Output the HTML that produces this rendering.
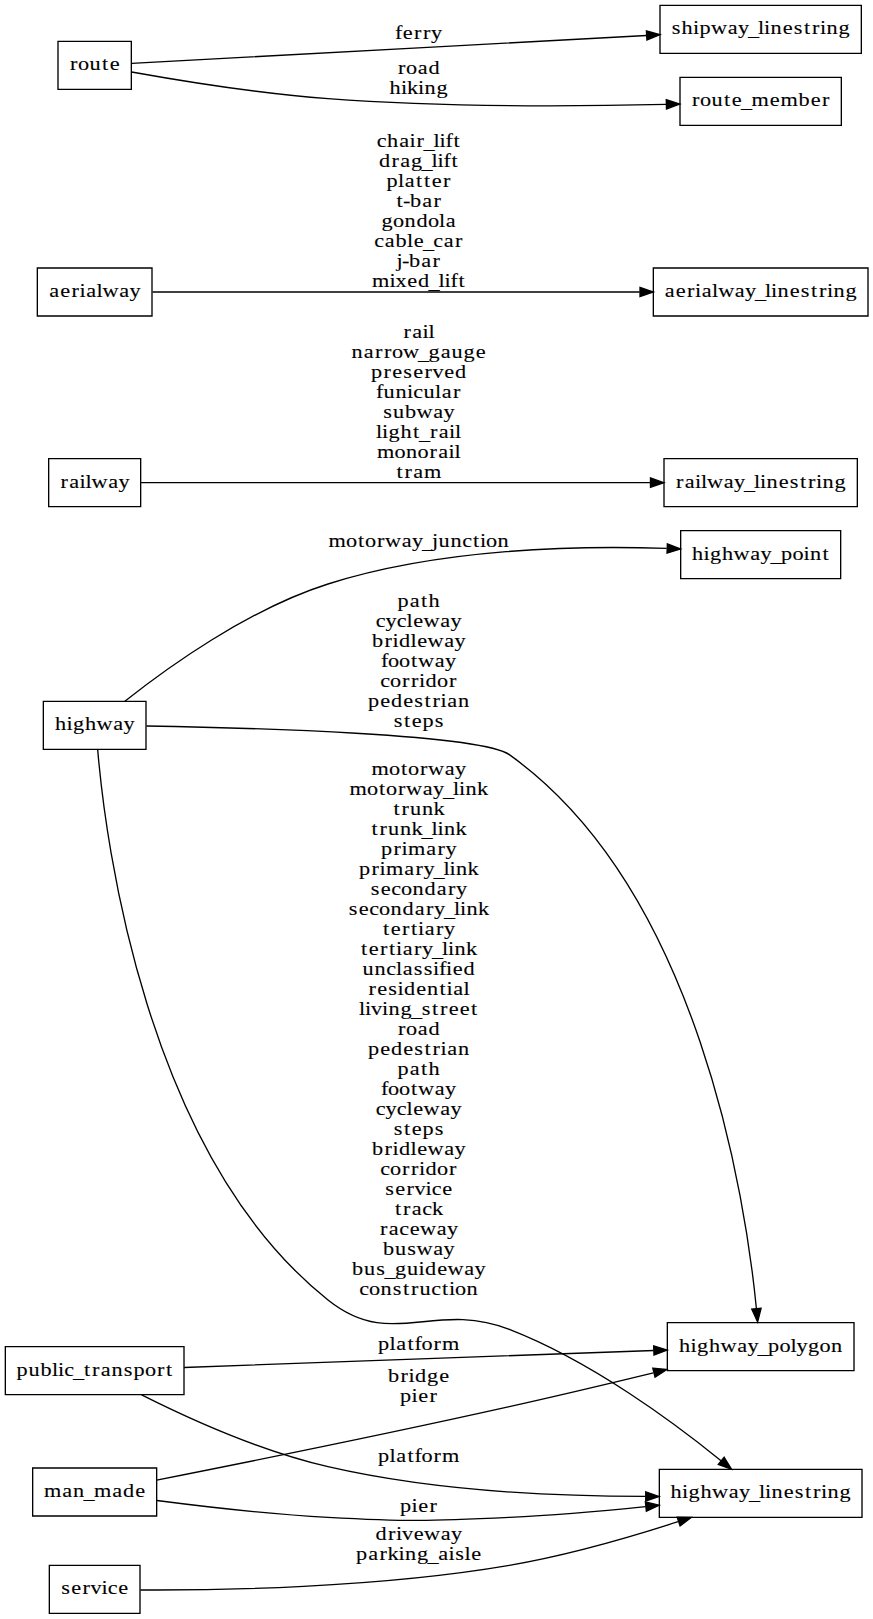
<!DOCTYPE html>
<html><head><meta charset="utf-8"><title>diagram</title>
<style>
html,body{margin:0;padding:0;background:#fff;width:873px;height:1619px;overflow:hidden}
svg{display:block}
text{font-family:"Liberation Serif",serif;font-size:14.40px;fill:#000;stroke:#000;stroke-width:0.080px}
</style></head><body>
<svg width="873" height="1619" viewBox="0 0 654.75 1214.25">
<g transform="scale(1 1) rotate(0) translate(4 1210)">
<polygon fill="white" stroke="none" points="-4,4 -4,-1210 651,-1210 651,4 -4,4"/>
<g>
<polygon fill="none" stroke="black" points="105.5,-684 28.5,-684 28.5,-648 105.5,-648 105.5,-684"/>
<text transform="scale(1.1600,1)" y="-662.30"><tspan x="32.18">h</tspan><tspan x="39.59">i</tspan><tspan x="43.81">g</tspan><tspan x="51.57">h</tspan><tspan x="59.02">w</tspan><tspan x="69.76">a</tspan><tspan x="76.46">y</tspan></text>
</g>
<g>
<polygon fill="none" stroke="black" points="626.5,-812 506.5,-812 506.5,-776 626.5,-776 626.5,-812"/>
<text transform="scale(1.1600,1)" y="-790.30"><tspan x="444.03">h</tspan><tspan x="451.45">i</tspan><tspan x="455.67">g</tspan><tspan x="463.43">h</tspan><tspan x="470.88">w</tspan><tspan x="481.61">a</tspan><tspan x="488.32">y</tspan><tspan x="494.78" dy="1.50">_</tspan><tspan x="501.57" dy="-1.50">p</tspan><tspan x="509.01">o</tspan><tspan x="516.10">i</tspan><tspan x="520.32">n</tspan><tspan x="528.39">t</tspan></text>
</g>
<g>
<path fill="none" stroke="black" d="M89.64,-684.01C120.97,-708.89 181.82,-752.89 242,-772 326.41,-798.81 429.26,-800.98 496,-798.66"/>
<polygon fill="black" stroke="black" points="496.53,-802.14 506.39,-798.26 496.26,-795.15 496.53,-802.14"/>
<text transform="scale(1.1600,1)" y="-799.80"><tspan x="208.95">m</tspan><tspan x="220.32">o</tspan><tspan x="228.06">t</tspan><tspan x="232.61">o</tspan><tspan x="240.27">r</tspan><tspan x="245.55">w</tspan><tspan x="256.29">a</tspan><tspan x="262.99">y</tspan><tspan x="269.46" dy="1.50">_</tspan><tspan x="275.91" dy="-1.50">j</tspan><tspan x="280.13">u</tspan><tspan x="287.89">n</tspan><tspan x="295.40">c</tspan><tspan x="302.42">t</tspan><tspan x="306.94">i</tspan><tspan x="310.84">o</tspan><tspan x="318.28">n</tspan></text>
</g>
<g>
<polygon fill="none" stroke="black" points="636.5,-218 496.5,-218 496.5,-182 636.5,-182 636.5,-218"/>
<text transform="scale(1.1600,1)" y="-196.30"><tspan x="435.62">h</tspan><tspan x="443.04">i</tspan><tspan x="447.26">g</tspan><tspan x="455.02">h</tspan><tspan x="462.47">w</tspan><tspan x="473.21">a</tspan><tspan x="479.91">y</tspan><tspan x="486.38" dy="1.50">_</tspan><tspan x="493.17" dy="-1.50">p</tspan><tspan x="500.60">o</tspan><tspan x="507.70">l</tspan><tspan x="511.59">y</tspan><tspan x="519.03">g</tspan><tspan x="526.46">o</tspan><tspan x="533.90">n</tspan></text>
</g>
<g>
<path fill="none" stroke="black" d="M105.77,-665.51C183.59,-664.18 356.33,-659.5 378,-644 520.63,-541.95 555.39,-309.39 563.31,-228.43"/>
<polygon fill="black" stroke="black" points="566.8,-228.74 564.22,-218.46 559.82,-228.1 566.8,-228.74"/>
<text transform="scale(1.1600,1)" y="-754.80"><tspan x="253.62">p</tspan><tspan x="261.46">a</tspan><tspan x="268.80">t</tspan><tspan x="273.66">h</tspan></text>
<text transform="scale(1.1600,1)" y="-739.80"><tspan x="239.48">c</tspan><tspan x="245.86">y</tspan><tspan x="253.05">c</tspan><tspan x="259.42">l</tspan><tspan x="263.72">e</tspan><tspan x="270.45">w</tspan><tspan x="281.18">a</tspan><tspan x="287.89">y</tspan></text>
<text transform="scale(1.1600,1)" y="-724.80"><tspan x="237.13">b</tspan><tspan x="245.12">r</tspan><tspan x="250.37">i</tspan><tspan x="254.59">d</tspan><tspan x="262.01">l</tspan><tspan x="266.31">e</tspan><tspan x="273.03">w</tspan><tspan x="283.77">a</tspan><tspan x="290.47">y</tspan></text>
<text transform="scale(1.1600,1)" y="-709.80"><tspan x="242.86">f</tspan><tspan x="247.48">o</tspan><tspan x="254.59">o</tspan><tspan x="262.33">t</tspan><tspan x="266.89">w</tspan><tspan x="277.62">a</tspan><tspan x="284.33">y</tspan></text>
<text transform="scale(1.1600,1)" y="-694.80"><tspan x="242.39">c</tspan><tspan x="248.77">o</tspan><tspan x="256.44">r</tspan><tspan x="262.26">r</tspan><tspan x="267.50">i</tspan><tspan x="271.72">d</tspan><tspan x="279.16">o</tspan><tspan x="286.83">r</tspan></text>
<text transform="scale(1.1600,1)" y="-679.80"><tspan x="234.55">p</tspan><tspan x="242.39">e</tspan><tspan x="249.42">d</tspan><tspan x="257.26">e</tspan><tspan x="264.44">s</tspan><tspan x="271.06">t</tspan><tspan x="276.16">r</tspan><tspan x="281.40">i</tspan><tspan x="285.71">a</tspan><tspan x="292.74">n</tspan></text>
<text transform="scale(1.1600,1)" y="-664.80"><tspan x="251.19">s</tspan><tspan x="257.81">t</tspan><tspan x="262.75">e</tspan><tspan x="269.78">p</tspan><tspan x="277.69">s</tspan></text>
</g>
<g>
<polygon fill="none" stroke="black" points="642.5,-108 490.5,-108 490.5,-72 642.5,-72 642.5,-108"/>
<text transform="scale(1.1600,1)" y="-86.30"><tspan x="430.13">h</tspan><tspan x="437.55">i</tspan><tspan x="441.77">g</tspan><tspan x="449.52">h</tspan><tspan x="456.98">w</tspan><tspan x="467.71">a</tspan><tspan x="474.42">y</tspan><tspan x="480.88" dy="1.50">_</tspan><tspan x="487.33" dy="-1.50">l</tspan><tspan x="491.21">i</tspan><tspan x="495.43">n</tspan><tspan x="503.27">e</tspan><tspan x="510.45">s</tspan><tspan x="517.07">t</tspan><tspan x="522.17">r</tspan><tspan x="527.42">i</tspan><tspan x="531.64">n</tspan><tspan x="539.40">g</tspan></text>
</g>
<g>
<path fill="none" stroke="black" d="M69.28,-647.58C75.01,-580.13 104.52,-344.75 242,-235 289.85,-196.8 320.92,-235.17 378,-213 439.48,-189.12 501.71,-142.98 536.76,-114.5"/>
<polygon fill="black" stroke="black" points="539.15,-117.06 544.66,-108.01 534.71,-111.65 539.15,-117.06"/>
<text transform="scale(1.1600,1)" y="-628.80"><tspan x="236.75">m</tspan><tspan x="248.12">o</tspan><tspan x="255.87">t</tspan><tspan x="260.41">o</tspan><tspan x="268.08">r</tspan><tspan x="273.36">w</tspan><tspan x="284.09">a</tspan><tspan x="290.80">y</tspan></text>
<text transform="scale(1.1600,1)" y="-613.80"><tspan x="222.52">m</tspan><tspan x="233.90">o</tspan><tspan x="241.64">t</tspan><tspan x="246.18">o</tspan><tspan x="253.85">r</tspan><tspan x="259.13">w</tspan><tspan x="269.86">a</tspan><tspan x="276.57">y</tspan><tspan x="283.04" dy="1.50">_</tspan><tspan x="289.49" dy="-1.50">l</tspan><tspan x="293.37">i</tspan><tspan x="297.59">n</tspan><tspan x="305.02">k</tspan></text>
<text transform="scale(1.1600,1)" y="-598.80"><tspan x="251.02">t</tspan><tspan x="256.12">r</tspan><tspan x="261.70">u</tspan><tspan x="269.46">n</tspan><tspan x="276.90">k</tspan></text>
<text transform="scale(1.1600,1)" y="-583.80"><tspan x="236.79">t</tspan><tspan x="241.89">r</tspan><tspan x="247.48">u</tspan><tspan x="255.24">n</tspan><tspan x="262.67">k</tspan><tspan x="269.14" dy="1.50">_</tspan><tspan x="275.59" dy="-1.50">l</tspan><tspan x="279.47">i</tspan><tspan x="283.68">n</tspan><tspan x="291.12">k</tspan></text>
<text transform="scale(1.1600,1)" y="-568.80"><tspan x="242.95">p</tspan><tspan x="250.94">r</tspan><tspan x="256.19">i</tspan><tspan x="260.35">m</tspan><tspan x="272.13">a</tspan><tspan x="279.39">r</tspan><tspan x="284.65">y</tspan></text>
<text transform="scale(1.1600,1)" y="-553.80"><tspan x="228.73">p</tspan><tspan x="236.72">r</tspan><tspan x="241.97">i</tspan><tspan x="246.12">m</tspan><tspan x="257.90">a</tspan><tspan x="265.17">r</tspan><tspan x="270.43">y</tspan><tspan x="276.90" dy="1.50">_</tspan><tspan x="283.34" dy="-1.50">l</tspan><tspan x="287.22">i</tspan><tspan x="291.44">n</tspan><tspan x="298.88">k</tspan></text>
<text transform="scale(1.1600,1)" y="-538.80"><tspan x="236.31">s</tspan><tspan x="242.71">e</tspan><tspan x="249.50">c</tspan><tspan x="255.88">o</tspan><tspan x="263.32">n</tspan><tspan x="271.08">d</tspan><tspan x="278.92">a</tspan><tspan x="286.18">r</tspan><tspan x="291.44">y</tspan></text>
<text transform="scale(1.1600,1)" y="-523.80"><tspan x="222.09">s</tspan><tspan x="228.49">e</tspan><tspan x="235.27">c</tspan><tspan x="241.66">o</tspan><tspan x="249.09">n</tspan><tspan x="256.85">d</tspan><tspan x="264.69">a</tspan><tspan x="271.96">r</tspan><tspan x="277.22">y</tspan><tspan x="283.68" dy="1.50">_</tspan><tspan x="290.13" dy="-1.50">l</tspan><tspan x="294.01">i</tspan><tspan x="298.23">n</tspan><tspan x="305.67">k</tspan></text>
<text transform="scale(1.1600,1)" y="-508.80"><tspan x="244.23">t</tspan><tspan x="249.17">e</tspan><tspan x="256.44">r</tspan><tspan x="262.33">t</tspan><tspan x="266.86">i</tspan><tspan x="271.16">a</tspan><tspan x="278.42">r</tspan><tspan x="283.68">y</tspan></text>
<text transform="scale(1.1600,1)" y="-493.80"><tspan x="230.00">t</tspan><tspan x="234.95">e</tspan><tspan x="242.21">r</tspan><tspan x="248.11">t</tspan><tspan x="252.63">i</tspan><tspan x="256.93">a</tspan><tspan x="264.20">r</tspan><tspan x="269.46">y</tspan><tspan x="275.93" dy="1.50">_</tspan><tspan x="282.37" dy="-1.50">l</tspan><tspan x="286.25">i</tspan><tspan x="290.47">n</tspan><tspan x="297.91">k</tspan></text>
<text transform="scale(1.1600,1)" y="-478.80"><tspan x="230.99">u</tspan><tspan x="238.75">n</tspan><tspan x="246.27">c</tspan><tspan x="252.63">l</tspan><tspan x="256.93">a</tspan><tspan x="264.12">s</tspan><tspan x="270.58">s</tspan><tspan x="276.56">i</tspan><tspan x="280.36">f</tspan><tspan x="284.96">i</tspan><tspan x="289.26">e</tspan><tspan x="296.29">d</tspan></text>
<text transform="scale(1.1600,1)" y="-463.80"><tspan x="234.78">r</tspan><tspan x="240.45">e</tspan><tspan x="247.63">s</tspan><tspan x="253.60">i</tspan><tspan x="257.82">d</tspan><tspan x="265.66">e</tspan><tspan x="272.69">n</tspan><tspan x="280.76">t</tspan><tspan x="285.28">i</tspan><tspan x="289.58">a</tspan><tspan x="296.28">l</tspan></text>
<text transform="scale(1.1600,1)" y="-448.80"><tspan x="228.71">l</tspan><tspan x="232.59">i</tspan><tspan x="236.49">v</tspan><tspan x="243.58">i</tspan><tspan x="247.80">n</tspan><tspan x="255.56">g</tspan><tspan x="262.35" dy="1.50">_</tspan><tspan x="269.29" dy="-1.50">s</tspan><tspan x="275.91">t</tspan><tspan x="281.01">r</tspan><tspan x="286.67">e</tspan><tspan x="293.79">e</tspan><tspan x="301.12">t</tspan></text>
<text transform="scale(1.1600,1)" y="-433.80"><tspan x="253.85">r</tspan><tspan x="259.12">o</tspan><tspan x="266.63">a</tspan><tspan x="273.66">d</tspan></text>
<text transform="scale(1.1600,1)" y="-418.80"><tspan x="234.55">p</tspan><tspan x="242.39">e</tspan><tspan x="249.42">d</tspan><tspan x="257.26">e</tspan><tspan x="264.44">s</tspan><tspan x="271.06">t</tspan><tspan x="276.16">r</tspan><tspan x="281.40">i</tspan><tspan x="285.71">a</tspan><tspan x="292.74">n</tspan></text>
<text transform="scale(1.1600,1)" y="-403.80"><tspan x="253.62">p</tspan><tspan x="261.46">a</tspan><tspan x="268.80">t</tspan><tspan x="273.66">h</tspan></text>
<text transform="scale(1.1600,1)" y="-388.80"><tspan x="242.86">f</tspan><tspan x="247.48">o</tspan><tspan x="254.59">o</tspan><tspan x="262.33">t</tspan><tspan x="266.89">w</tspan><tspan x="277.62">a</tspan><tspan x="284.33">y</tspan></text>
<text transform="scale(1.1600,1)" y="-373.80"><tspan x="239.48">c</tspan><tspan x="245.86">y</tspan><tspan x="253.05">c</tspan><tspan x="259.42">l</tspan><tspan x="263.72">e</tspan><tspan x="270.45">w</tspan><tspan x="281.18">a</tspan><tspan x="287.89">y</tspan></text>
<text transform="scale(1.1600,1)" y="-358.80"><tspan x="251.19">s</tspan><tspan x="257.81">t</tspan><tspan x="262.75">e</tspan><tspan x="269.78">p</tspan><tspan x="277.69">s</tspan></text>
<text transform="scale(1.1600,1)" y="-343.80"><tspan x="237.13">b</tspan><tspan x="245.12">r</tspan><tspan x="250.37">i</tspan><tspan x="254.59">d</tspan><tspan x="262.01">l</tspan><tspan x="266.31">e</tspan><tspan x="273.03">w</tspan><tspan x="283.77">a</tspan><tspan x="290.47">y</tspan></text>
<text transform="scale(1.1600,1)" y="-328.80"><tspan x="242.39">c</tspan><tspan x="248.77">o</tspan><tspan x="256.44">r</tspan><tspan x="262.26">r</tspan><tspan x="267.50">i</tspan><tspan x="271.72">d</tspan><tspan x="279.16">o</tspan><tspan x="286.83">r</tspan></text>
<text transform="scale(1.1600,1)" y="-313.80"><tspan x="245.69">s</tspan><tspan x="252.08">e</tspan><tspan x="259.35">r</tspan><tspan x="264.61">v</tspan><tspan x="271.71">i</tspan><tspan x="275.68">c</tspan><tspan x="282.47">e</tspan></text>
<text transform="scale(1.1600,1)" y="-298.80"><tspan x="251.99">t</tspan><tspan x="257.09">r</tspan><tspan x="262.75">a</tspan><tspan x="269.54">c</tspan><tspan x="275.93">k</tspan></text>
<text transform="scale(1.1600,1)" y="-283.80"><tspan x="242.21">r</tspan><tspan x="247.88">a</tspan><tspan x="254.67">c</tspan><tspan x="261.46">e</tspan><tspan x="268.18">w</tspan><tspan x="278.92">a</tspan><tspan x="285.62">y</tspan></text>
<text transform="scale(1.1600,1)" y="-268.80"><tspan x="244.24">b</tspan><tspan x="252.00">u</tspan><tspan x="259.91">s</tspan><tspan x="265.92">w</tspan><tspan x="276.65">a</tspan><tspan x="283.36">y</tspan></text>
<text transform="scale(1.1600,1)" y="-253.80"><tspan x="224.20">b</tspan><tspan x="231.96">u</tspan><tspan x="239.87">s</tspan><tspan x="245.21" dy="1.50">_</tspan><tspan x="252.00" dy="-1.50">g</tspan><tspan x="259.76">u</tspan><tspan x="267.18">i</tspan><tspan x="271.40">d</tspan><tspan x="279.24">e</tspan><tspan x="285.96">w</tspan><tspan x="296.70">a</tspan><tspan x="303.40">y</tspan></text>
<text transform="scale(1.1600,1)" y="-238.80"><tspan x="228.81">c</tspan><tspan x="235.19">o</tspan><tspan x="242.63">n</tspan><tspan x="250.54">s</tspan><tspan x="257.16">t</tspan><tspan x="262.26">r</tspan><tspan x="267.84">u</tspan><tspan x="275.36">c</tspan><tspan x="282.37">t</tspan><tspan x="286.90">i</tspan><tspan x="290.80">o</tspan><tspan x="298.23">n</tspan></text>
</g>
<g>
<polygon fill="none" stroke="black" points="134,-200 0,-200 0,-164 134,-164 134,-200"/>
<text transform="scale(1.1600,1)" y="-178.30"><tspan x="7.28">p</tspan><tspan x="15.04">u</tspan><tspan x="22.80">b</tspan><tspan x="30.22">l</tspan><tspan x="34.10">i</tspan><tspan x="38.08">c</tspan><tspan x="43.81" dy="1.50">_</tspan><tspan x="50.91" dy="-1.50">t</tspan><tspan x="56.01">r</tspan><tspan x="61.67">a</tspan><tspan x="68.71">n</tspan><tspan x="76.62">s</tspan><tspan x="82.93">p</tspan><tspan x="90.37">o</tspan><tspan x="98.03">r</tspan><tspan x="103.93">t</tspan></text>
</g>
<g>
<path fill="none" stroke="black" d="M134.06,-184.39C225.07,-187.68 388.79,-193.61 486.27,-197.13"/>
<polygon fill="black" stroke="black" points="486.24,-200.63 496.36,-197.5 486.49,-193.64 486.24,-200.63"/>
<text transform="scale(1.1600,1)" y="-197.80"><tspan x="241.01">p</tspan><tspan x="248.43">l</tspan><tspan x="252.73">a</tspan><tspan x="260.07">t</tspan><tspan x="264.52">f</tspan><tspan x="269.14">o</tspan><tspan x="276.80">r</tspan><tspan x="282.33">m</tspan></text>
</g>
<g>
<path fill="none" stroke="black" d="M102.2,-163.86C136.5,-146.64 191.35,-121.7 242,-110 321.23,-91.69 414.1,-87.68 479.96,-87.66"/>
<polygon fill="black" stroke="black" points="480.29,-91.16 490.3,-87.69 480.31,-84.16 480.29,-91.16"/>
<text transform="scale(1.1600,1)" y="-113.80"><tspan x="241.01">p</tspan><tspan x="248.43">l</tspan><tspan x="252.73">a</tspan><tspan x="260.07">t</tspan><tspan x="264.52">f</tspan><tspan x="269.14">o</tspan><tspan x="276.80">r</tspan><tspan x="282.33">m</tspan></text>
</g>
<g>
<polygon fill="none" stroke="black" points="113.5,-109 20.5,-109 20.5,-73 113.5,-73 113.5,-109"/>
<text transform="scale(1.1600,1)" y="-87.30"><tspan x="25.00">m</tspan><tspan x="36.78">a</tspan><tspan x="43.81">n</tspan><tspan x="50.60" dy="1.50">_</tspan><tspan x="57.33" dy="-1.50">m</tspan><tspan x="69.11">a</tspan><tspan x="76.14">d</tspan><tspan x="83.98">e</tspan></text>
</g>
<g>
<path fill="none" stroke="black" d="M113.53,-99.93C174.06,-111.9 284.27,-134.08 378,-155 413.53,-162.93 452.71,-172.24 486.03,-180.33"/>
<polygon fill="black" stroke="black" points="485.62,-183.84 496.17,-182.8 487.28,-177.04 485.62,-183.84"/>
<text transform="scale(1.1600,1)" y="-173.80"><tspan x="247.48">b</tspan><tspan x="255.47">r</tspan><tspan x="260.72">i</tspan><tspan x="264.93">d</tspan><tspan x="272.69">g</tspan><tspan x="280.53">e</tspan></text>
<text transform="scale(1.1600,1)" y="-158.80"><tspan x="255.24">p</tspan><tspan x="262.65">i</tspan><tspan x="266.96">e</tspan><tspan x="274.22">r</tspan></text>
</g>
<g>
<path fill="none" stroke="black" d="M113.68,-84.64C148.71,-80.09 198.31,-74.38 242,-72 302.36,-68.71 317.62,-69.11 378,-72 411.45,-73.6 448.15,-76.8 480.14,-80.07"/>
<polygon fill="black" stroke="black" points="480.04,-83.58 490.35,-81.13 480.76,-76.61 480.04,-83.58"/>
<text transform="scale(1.1600,1)" y="-75.80"><tspan x="255.24">p</tspan><tspan x="262.65">i</tspan><tspan x="266.96">e</tspan><tspan x="274.22">r</tspan></text>
</g>
<g>
<polygon fill="none" stroke="black" points="101,-36 33,-36 33,0 101,0 101,-36"/>
<text transform="scale(1.1600,1)" y="-14.30"><tspan x="36.21">s</tspan><tspan x="42.60">e</tspan><tspan x="49.87">r</tspan><tspan x="55.13">v</tspan><tspan x="62.22">i</tspan><tspan x="66.20">c</tspan><tspan x="72.99">e</tspan></text>
</g>
<g>
<path fill="none" stroke="black" d="M101.31,-17.52C158.38,-17.23 278.36,-18.98 378,-36 421.04,-43.35 468.26,-56.99 504.55,-68.72"/>
<polygon fill="black" stroke="black" points="503.89,-72.18 514.49,-71.97 506.07,-65.53 503.89,-72.18"/>
<text transform="scale(1.1600,1)" y="-54.80"><tspan x="239.40">d</tspan><tspan x="247.39">r</tspan><tspan x="252.63">i</tspan><tspan x="256.53">v</tspan><tspan x="264.05">e</tspan><tspan x="270.77">w</tspan><tspan x="281.50">a</tspan><tspan x="288.21">y</tspan></text>
<text transform="scale(1.1600,1)" y="-39.80"><tspan x="226.79">p</tspan><tspan x="234.63">a</tspan><tspan x="241.89">r</tspan><tspan x="247.15">k</tspan><tspan x="254.25">i</tspan><tspan x="258.47">n</tspan><tspan x="266.23">g</tspan><tspan x="273.02" dy="1.50">_</tspan><tspan x="279.89" dy="-1.50">a</tspan><tspan x="286.58">i</tspan><tspan x="290.95">s</tspan><tspan x="296.92">l</tspan><tspan x="301.22">e</tspan></text>
</g>
<g>
<polygon fill="none" stroke="black" points="101.5,-866 32.5,-866 32.5,-830 101.5,-830 101.5,-866"/>
<text transform="scale(1.1600,1)" y="-844.30"><tspan x="35.64">r</tspan><tspan x="41.31">a</tspan><tspan x="48.00">i</tspan><tspan x="51.88">l</tspan><tspan x="55.79">w</tspan><tspan x="66.52">a</tspan><tspan x="73.23">y</tspan></text>
</g>
<g>
<polygon fill="none" stroke="black" points="639,-866 494,-866 494,-830 639,-830 639,-866"/>
<text transform="scale(1.1600,1)" y="-844.30"><tspan x="433.59">r</tspan><tspan x="439.26">a</tspan><tspan x="445.95">i</tspan><tspan x="449.83">l</tspan><tspan x="453.74">w</tspan><tspan x="464.48">a</tspan><tspan x="471.18">y</tspan><tspan x="477.65" dy="1.50">_</tspan><tspan x="484.10" dy="-1.50">l</tspan><tspan x="487.98">i</tspan><tspan x="492.20">n</tspan><tspan x="500.04">e</tspan><tspan x="507.22">s</tspan><tspan x="513.84">t</tspan><tspan x="518.94">r</tspan><tspan x="524.18">i</tspan><tspan x="528.40">n</tspan><tspan x="536.16">g</tspan></text>
</g>
<g>
<path fill="none" stroke="black" d="M101.8,-848C179.53,-848 372.78,-848 483.72,-848"/>
<polygon fill="black" stroke="black" points="483.86,-851.5 493.86,-848 483.86,-844.5 483.86,-851.5"/>
<text transform="scale(1.1600,1)" y="-956.80"><tspan x="257.41">r</tspan><tspan x="263.08">a</tspan><tspan x="269.77">i</tspan><tspan x="273.65">l</tspan></text>
<text transform="scale(1.1600,1)" y="-941.80"><tspan x="223.88">n</tspan><tspan x="231.72">a</tspan><tspan x="238.98">r</tspan><tspan x="244.80">r</tspan><tspan x="250.06">o</tspan><tspan x="257.19">w</tspan><tspan x="266.87" dy="1.50">_</tspan><tspan x="273.66" dy="-1.50">g</tspan><tspan x="281.50">a</tspan><tspan x="288.53">u</tspan><tspan x="296.29">g</tspan><tspan x="304.13">e</tspan></text>
<text transform="scale(1.1600,1)" y="-926.80"><tspan x="236.49">p</tspan><tspan x="244.48">r</tspan><tspan x="250.14">e</tspan><tspan x="257.33">s</tspan><tspan x="263.72">e</tspan><tspan x="270.99">r</tspan><tspan x="276.25">v</tspan><tspan x="283.77">e</tspan><tspan x="290.80">d</tspan></text>
<text transform="scale(1.1600,1)" y="-911.80"><tspan x="239.63">f</tspan><tspan x="244.57">u</tspan><tspan x="252.33">n</tspan><tspan x="259.75">i</tspan><tspan x="263.72">c</tspan><tspan x="270.43">u</tspan><tspan x="277.85">l</tspan><tspan x="282.15">a</tspan><tspan x="289.41">r</tspan></text>
<text transform="scale(1.1600,1)" y="-896.80"><tspan x="244.40">s</tspan><tspan x="250.71">u</tspan><tspan x="258.47">b</tspan><tspan x="265.92">w</tspan><tspan x="276.65">a</tspan><tspan x="283.36">y</tspan></text>
<text transform="scale(1.1600,1)" y="-881.80"><tspan x="239.70">l</tspan><tspan x="243.58">i</tspan><tspan x="247.80">g</tspan><tspan x="255.56">h</tspan><tspan x="263.62">t</tspan><tspan x="267.52" dy="1.50">_</tspan><tspan x="274.54" dy="-1.50">r</tspan><tspan x="280.21">a</tspan><tspan x="286.90">i</tspan><tspan x="290.78">l</tspan></text>
<text transform="scale(1.1600,1)" y="-866.80"><tspan x="240.30">m</tspan><tspan x="251.68">o</tspan><tspan x="259.12">n</tspan><tspan x="266.55">o</tspan><tspan x="274.22">r</tspan><tspan x="279.89">a</tspan><tspan x="286.58">i</tspan><tspan x="290.46">l</tspan></text>
<text transform="scale(1.1600,1)" y="-851.80"><tspan x="252.96">t</tspan><tspan x="258.05">r</tspan><tspan x="263.72">a</tspan><tspan x="270.69">m</tspan></text>
</g>
<g>
<polygon fill="none" stroke="black" points="110,-1009 24,-1009 24,-973 110,-973 110,-1009"/>
<text transform="scale(1.1600,1)" y="-987.30"><tspan x="28.38">a</tspan><tspan x="35.49">e</tspan><tspan x="42.75">r</tspan><tspan x="48.00">i</tspan><tspan x="52.30">a</tspan><tspan x="58.99">l</tspan><tspan x="62.90">w</tspan><tspan x="73.64">a</tspan><tspan x="80.34">y</tspan></text>
</g>
<g>
<polygon fill="none" stroke="black" points="647,-1009 486,-1009 486,-973 647,-973 647,-1009"/>
<text transform="scale(1.1600,1)" y="-987.30"><tspan x="426.33">a</tspan><tspan x="433.44">e</tspan><tspan x="440.71">r</tspan><tspan x="445.95">i</tspan><tspan x="450.25">a</tspan><tspan x="456.94">l</tspan><tspan x="460.86">w</tspan><tspan x="471.59">a</tspan><tspan x="478.30">y</tspan><tspan x="484.76" dy="1.50">_</tspan><tspan x="491.21" dy="-1.50">l</tspan><tspan x="495.09">i</tspan><tspan x="499.31">n</tspan><tspan x="507.15">e</tspan><tspan x="514.33">s</tspan><tspan x="520.95">t</tspan><tspan x="526.05">r</tspan><tspan x="531.30">i</tspan><tspan x="535.52">n</tspan><tspan x="543.27">g</tspan></text>
</g>
<g>
<path fill="none" stroke="black" d="M110.42,-991C191,-991 367.8,-991 475.77,-991"/>
<polygon fill="black" stroke="black" points="476,-994.5 486,-991 476,-987.5 476,-994.5"/>
<text transform="scale(1.1600,1)" y="-1099.80"><tspan x="240.12">c</tspan><tspan x="246.83">h</tspan><tspan x="254.67">a</tspan><tspan x="261.36">i</tspan><tspan x="265.81">r</tspan><tspan x="270.43" dy="1.50">_</tspan><tspan x="276.88" dy="-1.50">l</tspan><tspan x="280.76">i</tspan><tspan x="284.56">f</tspan><tspan x="289.81">t</tspan></text>
<text transform="scale(1.1600,1)" y="-1084.80"><tspan x="241.66">d</tspan><tspan x="249.65">r</tspan><tspan x="255.32">a</tspan><tspan x="262.35">g</tspan><tspan x="269.14" dy="1.50">_</tspan><tspan x="275.59" dy="-1.50">l</tspan><tspan x="279.47">i</tspan><tspan x="283.27">f</tspan><tspan x="288.52">t</tspan></text>
<text transform="scale(1.1600,1)" y="-1069.80"><tspan x="246.51">p</tspan><tspan x="253.93">l</tspan><tspan x="258.23">a</tspan><tspan x="265.56">t</tspan><tspan x="270.74">t</tspan><tspan x="275.68">e</tspan><tspan x="282.95">r</tspan></text>
<text transform="scale(1.1600,1)" y="-1054.80"><tspan x="252.96">t</tspan><tspan x="257.09">-</tspan><tspan x="261.70">b</tspan><tspan x="269.54">a</tspan><tspan x="276.80">r</tspan></text>
<text transform="scale(1.1600,1)" y="-1039.80"><tspan x="243.28">g</tspan><tspan x="250.71">o</tspan><tspan x="258.15">n</tspan><tspan x="265.90">d</tspan><tspan x="273.34">o</tspan><tspan x="280.43">l</tspan><tspan x="284.74">a</tspan></text>
<text transform="scale(1.1600,1)" y="-1024.80"><tspan x="238.51">c</tspan><tspan x="245.30">a</tspan><tspan x="252.33">b</tspan><tspan x="259.75">l</tspan><tspan x="264.05">e</tspan><tspan x="270.11" dy="1.50">_</tspan><tspan x="276.65" dy="-1.50">c</tspan><tspan x="283.44">a</tspan><tspan x="290.71">r</tspan></text>
<text transform="scale(1.1600,1)" y="-1009.80"><tspan x="252.96">j</tspan><tspan x="256.44">-</tspan><tspan x="261.06">b</tspan><tspan x="268.89">a</tspan><tspan x="276.16">r</tspan></text>
<text transform="scale(1.1600,1)" y="-994.80"><tspan x="237.07">m</tspan><tspan x="248.43">i</tspan><tspan x="252.33">x</tspan><tspan x="259.84">e</tspan><tspan x="266.87">d</tspan><tspan x="273.66" dy="1.50">_</tspan><tspan x="280.11" dy="-1.50">l</tspan><tspan x="283.99">i</tspan><tspan x="287.80">f</tspan><tspan x="293.04">t</tspan></text>
</g>
<g>
<polygon fill="none" stroke="black" points="94.5,-1179 39.5,-1179 39.5,-1143 94.5,-1143 94.5,-1179"/>
<text transform="scale(1.1600,1)" y="-1157.30"><tspan x="41.78">r</tspan><tspan x="47.05">o</tspan><tspan x="54.48">u</tspan><tspan x="62.55">t</tspan><tspan x="67.49">e</tspan></text>
</g>
<g>
<polygon fill="none" stroke="black" points="642,-1206 491,-1206 491,-1170 642,-1170 642,-1206"/>
<text transform="scale(1.1600,1)" y="-1184.30"><tspan x="430.93">s</tspan><tspan x="437.24">h</tspan><tspan x="444.66">i</tspan><tspan x="448.88">p</tspan><tspan x="456.33">w</tspan><tspan x="467.06">a</tspan><tspan x="473.77">y</tspan><tspan x="480.24" dy="1.50">_</tspan><tspan x="486.68" dy="-1.50">l</tspan><tspan x="490.56">i</tspan><tspan x="494.78">n</tspan><tspan x="502.62">e</tspan><tspan x="509.81">s</tspan><tspan x="516.43">t</tspan><tspan x="521.52">r</tspan><tspan x="526.77">i</tspan><tspan x="530.99">n</tspan><tspan x="538.75">g</tspan></text>
</g>
<g>
<path fill="none" stroke="black" d="M94.75,-1162.45C166.55,-1166.35 365.86,-1177.17 480.81,-1183.4"/>
<polygon fill="black" stroke="black" points="480.8,-1186.91 490.98,-1183.96 481.18,-1179.92 480.8,-1186.91"/>
<text transform="scale(1.1600,1)" y="-1180.80"><tspan x="251.91">f</tspan><tspan x="256.93">e</tspan><tspan x="264.20">r</tspan><tspan x="270.02">r</tspan><tspan x="275.28">y</tspan></text>
</g>
<g>
<polygon fill="none" stroke="black" points="627,-1152 506,-1152 506,-1116 627,-1116 627,-1152"/>
<text transform="scale(1.1600,1)" y="-1130.30"><tspan x="443.94">r</tspan><tspan x="449.20">o</tspan><tspan x="456.64">u</tspan><tspan x="464.70">t</tspan><tspan x="469.65">e</tspan><tspan x="475.71" dy="1.50">_</tspan><tspan x="482.44" dy="-1.50">m</tspan><tspan x="494.22">e</tspan><tspan x="501.19">m</tspan><tspan x="512.89">b</tspan><tspan x="520.73">e</tspan><tspan x="527.99">r</tspan></text>
</g>
<g>
<path fill="none" stroke="black" d="M94.7,-1156.01C128.75,-1149.91 189.5,-1139.92 242,-1136 329.19,-1129.5 429.96,-1130.16 495.56,-1131.68"/>
<polygon fill="black" stroke="black" points="495.7,-1135.19 505.78,-1131.94 495.87,-1128.19 495.7,-1135.19"/>
<text transform="scale(1.1600,1)" y="-1154.80"><tspan x="253.85">r</tspan><tspan x="259.12">o</tspan><tspan x="266.63">a</tspan><tspan x="273.66">d</tspan></text>
<text transform="scale(1.1600,1)" y="-1139.80"><tspan x="248.45">h</tspan><tspan x="255.87">i</tspan><tspan x="259.76">k</tspan><tspan x="266.86">i</tspan><tspan x="271.08">n</tspan><tspan x="278.84">g</tspan></text>
</g>
</g>
</svg>
</body></html>
